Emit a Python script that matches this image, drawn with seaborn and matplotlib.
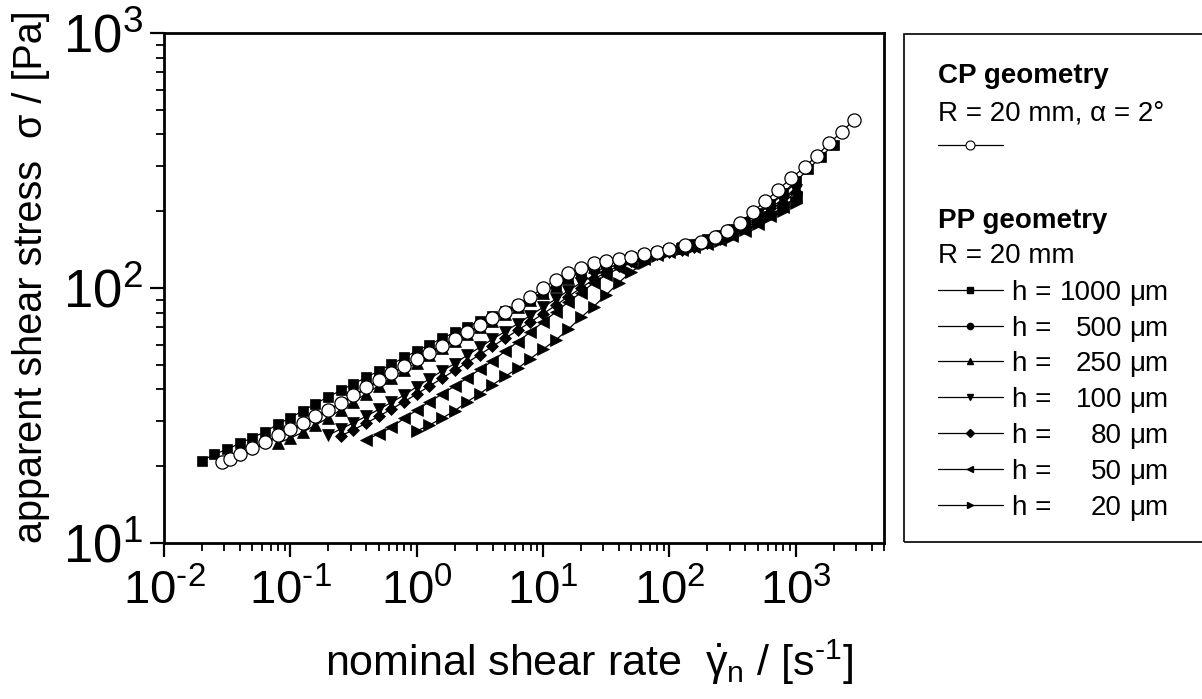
import matplotlib
matplotlib.use("Agg")
import matplotlib.pyplot as plt
import seaborn as sns
from matplotlib.lines import Line2D
from matplotlib.patches import Rectangle
from matplotlib.ticker import LogLocator, NullFormatter, FixedLocator, FixedFormatter

# -------------------------
# Data
# -------------------------
# shear-rate grid of the PP runs, 10 points per decade
RATE_PP = [0.02, 0.0251, 0.0316, 0.0398, 0.0501, 0.0631, 0.0794, 0.1, 0.126, 0.158,
           0.2, 0.251, 0.316, 0.398, 0.501, 0.631, 0.794, 1.0, 1.26, 1.58,
           2.0, 2.51, 3.16, 3.98, 5.01, 6.31, 7.94, 10, 12.6, 15.8,
           20, 25.1, 31.6, 39.8, 50.1, 63.1, 79.4, 100, 126, 158,
           200, 251, 316, 398, 501, 631, 794, 1000, 1260, 1580, 2000]

# CP geometry, R = 20 mm, alpha = 2 deg
RATE_CP = [0.0286, 0.033, 0.0398, 0.0501, 0.0631, 0.0794, 0.1, 0.126, 0.158, 0.2,
           0.251, 0.316, 0.398, 0.501, 0.631, 0.794, 1.0, 1.26, 1.58, 2.0,
           2.51, 3.16, 3.98, 5.01, 6.31, 7.94, 10, 12.6, 15.8, 20,
           25.1, 31.6, 39.8, 50.1, 63.1, 79.4, 100, 132, 178, 229,
           288, 363, 457, 575, 724, 912, 1175, 1462, 1841, 2317, 2897]
STRESS_CP = [20.7, 21.3, 22.3, 23.5, 24.8, 26.4, 27.9, 29.6, 31.4, 33.3,
             35.5, 38.0, 40.8, 43.5, 46.3, 49.3, 52.5, 55.8, 59.3, 63.0,
             67.0, 71.3, 76.0, 80.7, 85.8, 92.5, 100, 107.4, 114.8, 119.5,
             125, 128, 129.7, 132.8, 136, 138.7, 142, 147.4, 151, 158.9,
             167, 180, 199, 219, 242, 269, 297, 330, 369, 410, 456]

# PP geometry, R = 20 mm, one run per gap height
GAPS = ["1000", "500", "250", "100", "80", "50", "20"]
START_IDX = [0, 3, 6, 10, 11, 13, 17]   # first point on RATE_PP
STRESS_1000 = [21.0, 22.3, 23.3, 24.6, 25.9, 27.3, 29.2, 31.0, 33.0, 35.2,
               37.4, 39.7, 42.1, 44.6, 47.3, 50.2, 53.4, 56.6, 60.0, 63.4,
               67.0, 70.6, 74.2, 77.8, 81.5, 85.7, 90.6, 96.5, 103.5, 110.5,
               117, 122, 126, 129, 132, 135, 138, 141, 144.5, 149,
               155, 162, 171, 182, 196, 214, 236, 262, 292, 327, 365]
STRESS_500 = [22.0, 23.2, 24.5, 26.0, 27.5, 29.2, 31.0, 33.0, 35.2, 37.6,
              40.2, 43.0, 46.0, 49.2, 52.5, 56.0, 59.5, 63.2, 67.0, 71.0,
              75.3, 80.0, 85.0, 90.5, 96.5, 103, 110, 116.5, 121.5, 125.5,
              128.5, 131.5, 134.5, 137.5, 140.5, 144, 148, 154, 161, 170,
              181, 195, 212, 233, 258]
STRESS_250 = [24.6, 25.8, 27.2, 29.0, 31.0, 33.3, 35.8, 38.5, 41.4, 44.4,
              47.6, 51.0, 54.5, 58.2, 62.0, 66.0, 70.2, 74.5, 79.0, 84.0,
              89.5, 95.5, 102, 109, 115.5, 121, 125, 128.5, 131.5, 134.5,
              137.5, 140.5, 143.5, 147.5, 152.5, 159, 167, 177, 190, 205,
              224, 246]
STRESS_100 = [26.5, 28.0, 29.6, 31.4, 33.4, 35.6, 38.0, 41.0, 44.0, 47.2,
              50.5, 54.5, 58.5, 63.0, 67.5, 72.5, 78.0, 84.0, 90.5, 97.5,
              105, 112, 118.5, 124.5, 129, 133, 136.5, 139.5, 142.5, 146,
              151, 157, 165, 174, 186, 201, 220, 243]
STRESS_80 = [26.3, 27.8, 29.5, 31.4, 33.5, 35.8, 38.4, 41.2, 44.2, 47.5,
             51.0, 54.8, 59.0, 63.5, 68.3, 73.5, 79.2, 85.5, 92.5, 100,
             108, 115.5, 122, 127.5, 132, 135.5, 138.5, 141.5, 145, 149.5,
             155.5, 163, 172, 183, 197, 215, 238]
STRESS_50 = [25.4, 26.8, 28.4, 30.8, 33.2, 35.8, 38.3, 41.3, 44.3, 48.0,
             51.7, 56.5, 61.5, 67.2, 73.5, 80.5, 88, 96, 104.5, 112.5,
             119.5, 125.5, 130.5, 134.5, 138, 141, 144.5, 148.5, 154, 160,
             168, 178, 191, 207, 228]
STRESS_20 = [27.5, 29.0, 30.8, 33.0, 35.8, 38.5, 41.7, 45.0, 48.4, 52.8,
             57.5, 62.5, 68.8, 76.7, 84.5, 94, 105, 116, 125, 133.5,
             139, 142, 145, 148.5, 153, 159, 169, 179, 190, 200, 215]
STRESS_PP = [STRESS_1000, STRESS_500, STRESS_250, STRESS_100, STRESS_80, STRESS_50, STRESS_20]

X_TICKS = [0.01, 0.1, 1, 10, 100, 1000]
X_TICKLABELS = [r"$10^{\text{-}2}$", r"$10^{\text{-}1}$", r"$10^{0}$",
                r"$10^{1}$", r"$10^{2}$", r"$10^{3}$"]
Y_TICKS = [10, 100, 1000]
Y_TICKLABELS = [r"$10^{1}$", r"$10^{2}$", r"$10^{3}$"]

MARKERS = ["s", "o", "^", "v", "D", "<", ">"]
MSIZES = [6.5, 6.5, 8.0, 8.0, 6.0, 8.0, 8.0]
LEG_MSIZES = [4.0, 4.5, 5.0, 5.0, 4.0, 5.0, 5.0]

W, H = 1202, 699

# -------------------------
# Style
# -------------------------
sns.set_theme(style="ticks")
plt.rcParams["font.family"] = ["Liberation Sans", "DejaVu Sans"]
plt.rcParams["mathtext.fontset"] = "custom"
plt.rcParams["mathtext.rm"] = "Liberation Sans"
plt.rcParams["mathtext.it"] = "Liberation Sans"
plt.rcParams["mathtext.default"] = "regular"
plt.rcParams["axes.unicode_minus"] = False
plt.rcParams["text.color"] = "black"
plt.rcParams["axes.labelcolor"] = "black"
plt.rcParams["xtick.color"] = "black"
plt.rcParams["ytick.color"] = "black"

fig, ax = plt.subplots(figsize=(W / 100, H / 100), dpi=100)
fig.subplots_adjust(left=164 / W, right=884 / W, bottom=1 - 543 / H, top=1 - 33 / H)

# PP curves
for gap, start, ys, mk, ms in zip(GAPS, START_IDX, STRESS_PP, MARKERS, MSIZES):
    xs = RATE_PP[start:start + len(ys)]
    sns.lineplot(x=xs, y=ys, ax=ax, color="black", lw=0.9, marker=mk, markersize=ms,
                 markerfacecolor="black", markeredgecolor="black", markeredgewidth=0.5,
                 estimator=None, sort=False, legend=False)

# CP curve (open circles, on top)
sns.lineplot(x=RATE_CP, y=STRESS_CP, ax=ax, color="black", lw=0.9, marker="o", markersize=9.5,
             markerfacecolor="white", markeredgecolor="black", markeredgewidth=0.9,
             estimator=None, sort=False, legend=False, zorder=5)

ax.set_xscale("log")
ax.set_yscale("log")
ax.set_xlim(0.01, 5000)
ax.set_ylim(10, 1000)
ax.xaxis.set_major_locator(FixedLocator(X_TICKS))
ax.xaxis.set_major_formatter(FixedFormatter(X_TICKLABELS))
ax.yaxis.set_major_locator(FixedLocator(Y_TICKS))
ax.yaxis.set_major_formatter(FixedFormatter(Y_TICKLABELS))
ax.xaxis.set_minor_locator(LogLocator(base=10, subs=range(2, 10), numticks=40))
ax.yaxis.set_minor_locator(LogLocator(base=10, subs=range(2, 10), numticks=40))
ax.yaxis.set_minor_formatter(NullFormatter())
ax.xaxis.set_minor_formatter(NullFormatter())
ax.set_xlabel("")
ax.set_ylabel("")

for sp in ax.spines.values():
    sp.set_linewidth(2.0)
    sp.set_color("black")
ax.tick_params(which="major", direction="out", length=10, width=1.6,
               colors="black", top=False, right=False)
ax.tick_params(axis="x", which="major", pad=9, labelsize=34)
ax.tick_params(axis="y", which="major", pad=5, labelsize=38)
ax.tick_params(which="minor", direction="out", length=6, width=1.3, top=False, right=False)

# axis labels
fig.text(589 / W, 1 - 676 / H, r"nominal shear rate  $\dot{\gamma}_{n}$ / [s$^{\text{-}1}$]",
         ha="center", va="baseline", fontsize=31)
fig.text(31 / W, 1 - 277 / H, "apparent shear stress  σ / [Pa]", rotation=90,
         ha="center", va="center", fontsize=28.5)

# -------------------------
# Legend (drawn by hand to keep the layout)
# -------------------------
fig.add_artist(Rectangle((904 / W, 1 - 542 / H), 0.3, (542 - 34) / H, transform=fig.transFigure,
                         fill=False, lw=1.2, ec="black", clip_on=False))

LX0, LXM, LX1 = 938 / W, 970 / W, 1003 / W
fs = 20
fig.text(LX0, 1 - 83 / H, "CP geometry", fontweight="bold", fontsize=fs, va="baseline")
fig.text(LX0, 1 - 120 / H, "R = 20 mm, α = 2°", fontsize=fs, va="baseline")
fig.add_artist(Line2D([LX0, LXM, LX1], [1 - 145 / H] * 3, transform=fig.transFigure, color="black",
                      lw=0.9, marker="o", markevery=[1], markersize=6.5, markerfacecolor="white",
                      markeredgecolor="black", markeredgewidth=0.8))
fig.text(LX0, 1 - 228 / H, "PP geometry", fontweight="bold", fontsize=fs, va="baseline")
fig.text(LX0, 1 - 263 / H, "R = 20 mm", fontsize=fs, va="baseline")

row_y = [290, 326, 361, 397, 433, 469, 505]
for gap, mk, ms, yc in zip(GAPS, MARKERS, LEG_MSIZES, row_y):
    yf = 1 - yc / H
    fig.add_artist(Line2D([LX0, LXM, LX1], [yf] * 3, transform=fig.transFigure, color="black",
                          lw=0.9, marker=mk, markevery=[1], markersize=ms,
                          markerfacecolor="black", markeredgecolor="black"))
    yb = 1 - (yc + 10) / H
    fig.text(1012 / W, yb, "h =", fontsize=fs, va="baseline")
    fig.text(1122 / W, yb, gap, fontsize=fs, va="baseline", ha="right")
    fig.text(1129 / W, yb, "μm", fontsize=fs, va="baseline")

fig.savefig("out.png", dpi=100)
